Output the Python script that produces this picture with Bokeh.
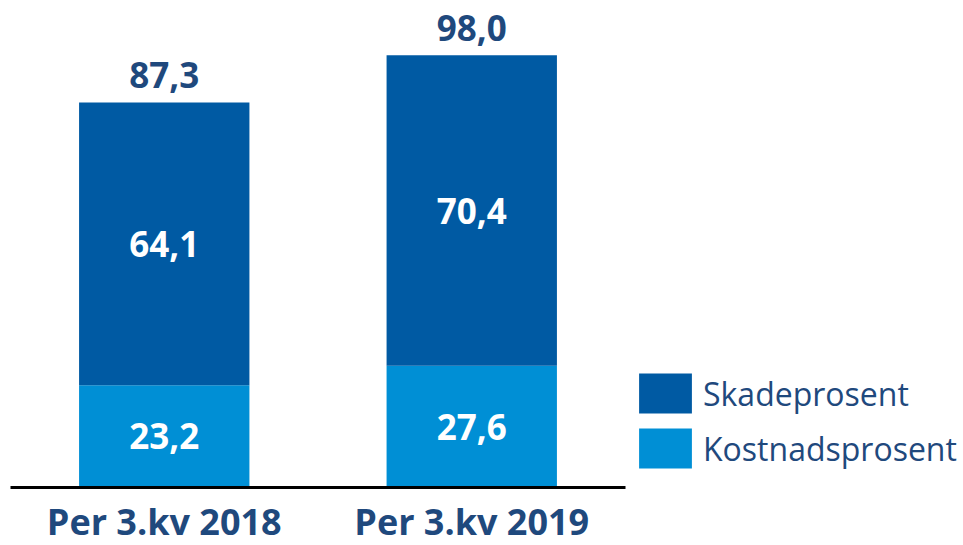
from bokeh.plotting import figure
from bokeh.models import ColumnDataSource, Range1d, FactorRange, Legend, LegendItem
from bokeh.core.properties import value
from bokeh.embed import file_html
from bokeh.resources import INLINE

categories = ["Per 3.kv 2018", "Per 3.kv 2019"]
kostnad = [23.2, 27.6]
skade = [64.1, 70.4]
series_names = ["Skadeprosent", "Kostnadsprosent"]

DARK = "#005AA3"
LIGHT = "#008FD5"
NAVY = "#1F497D"
FONT = "Open Sans"

totals = [round(k + s, 1) for k, s in zip(kostnad, skade)]
fmt = lambda v: f"{v:.1f}".replace(".", ",")

src = ColumnDataSource(dict(
    cat=categories,
    kostnad=kostnad,
    skade=skade,
    top=totals,
    k_mid=[k / 2 for k in kostnad],
    s_mid=[k + s / 2 for k, s in zip(kostnad, skade)],
    k_lab=[fmt(v) for v in kostnad],
    s_lab=[fmt(v) for v in skade],
    t_lab=[fmt(v) for v in totals],
))

p = figure(x_range=FactorRange(*categories), y_range=Range1d(0, 108.6),
           frame_width=615, frame_height=479,
           output_backend="svg", toolbar_location=None,
           min_border_left=10, min_border_top=8, min_border_right=330, min_border_bottom=0)
p.outline_line_color = None
p.grid.visible = False
p.yaxis.visible = False
p.background_fill_color = "white"

rk = p.vbar(x="cat", bottom=0, top="kostnad", width=0.554, source=src,
            fill_color=LIGHT, line_color=None)
rs = p.vbar(x="cat", bottom="kostnad", top="top", width=0.554, source=src,
            fill_color=DARK, line_color=None)

for ycol, lcol in (("k_mid", "k_lab"), ("s_mid", "s_lab")):
    p.text(x="cat", y=ycol, text=lcol, source=src, text_align="center",
           text_baseline="middle", text_color="white", text_font=value(FONT),
           text_font_style="bold", text_font_size="35px")
p.text(x="cat", y="top", text="t_lab", source=src, text_align="center",
       text_baseline="alphabetic", y_offset=-27, text_color=NAVY,
       text_font=value(FONT), text_font_style="bold", text_font_size="35px")

ax = p.xaxis[0]
ax.axis_line_color = "black"
ax.axis_line_width = 3
ax.major_tick_line_color = None
ax.minor_tick_line_color = None
ax.major_tick_out = 0
ax.major_label_standoff = 9
ax.major_label_text_font = FONT
ax.major_label_text_font_style = "bold"
ax.major_label_text_font_size = "36px"
ax.major_label_text_color = NAVY

legend = Legend(items=[LegendItem(label=series_names[0], renderers=[rs]),
                       LegendItem(label=series_names[1], renderers=[rk])],
                location=(7, 14), glyph_width=66, glyph_height=50,
                label_height=50, label_standoff=5, spacing=5,
                padding=0, margin=0, border_line_color=None,
                background_fill_alpha=0,
                label_text_font=FONT, label_text_font_size="32px",
                label_text_color=NAVY)
p.add_layout(legend, "right")

open("out.html", "w").write(file_html(p, INLINE))
